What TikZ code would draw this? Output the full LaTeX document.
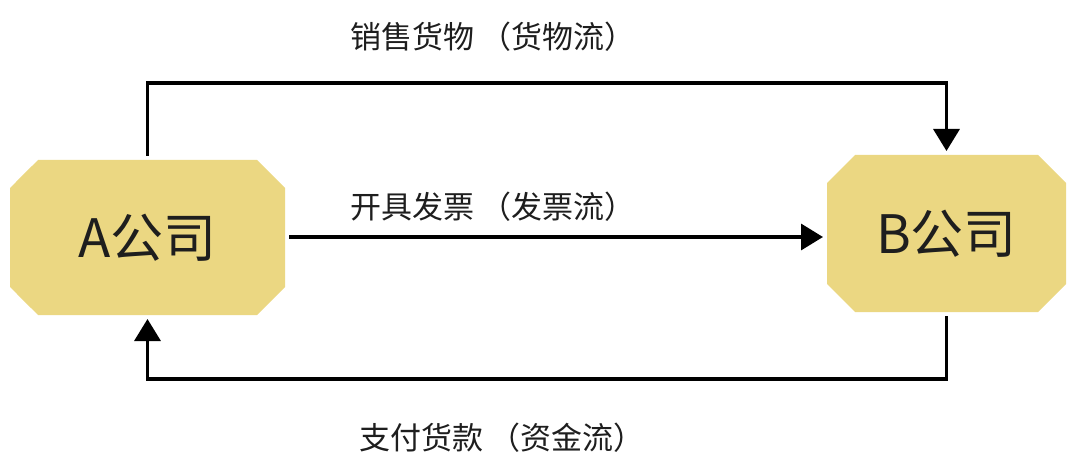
\documentclass[tikz,border=0pt]{standalone}
\usepackage{fontspec}
\setmainfont{Noto Sans CJK SC}
\usepackage{tikz}
\usetikzlibrary{shapes.misc}
\usetikzlibrary{arrows.meta}
\usepackage{xcolor}
\definecolor{ColFirm}{RGB}{235,215,130}
\definecolor{ColText}{RGB}{30,30,30}
\tikzstyle{NodeFirm}=[chamfered rectangle,chamfered rectangle xsep=14pt,chamfered rectangle ysep=14pt,
fill=ColFirm,inner sep=0pt,outer sep=4pt,text=ColText,font=\fontsize{53}{60}\selectfont]
\tikzstyle{EdgeFlow}=[black,line width=3.4pt,-{Triangle[length=22pt,width=26pt]}]
\tikzstyle{LabelFlow}=[text=ColText,inner sep=0pt,font=\fontsize{31}{36}\selectfont]

\begin{document}
\begin{tikzpicture}[x=1pt,y=-1pt]
        \useasboundingbox(0,0)rectangle(1080,468);
        \node[NodeFirm,minimum width=275pt,minimum height=155pt](a)at(147.5,237.5){A公司};
        \node[NodeFirm,minimum width=239pt,minimum height=157pt](b)at(946.5,233.5){B公司};
        \coordinate(top)at(546,83);
        \coordinate(bot)at(546,379);
        \draw[EdgeFlow](a.north)|-(top)-|(b.north);
        \draw[EdgeFlow](a.east|-0,237)--(b.west|-0,237);
        \draw[EdgeFlow](b.south)|-(bot)-|(a.south);
        \node[LabelFlow](sell)at(493,37){销售货物\,（货物流）};
        \node[LabelFlow](bill)at(493,207){开具发票\,（发票流）};
        \node[LabelFlow](pay)at(502,437.5){支付货款\,（资金流）};
    \end{tikzpicture}
\end{document}
